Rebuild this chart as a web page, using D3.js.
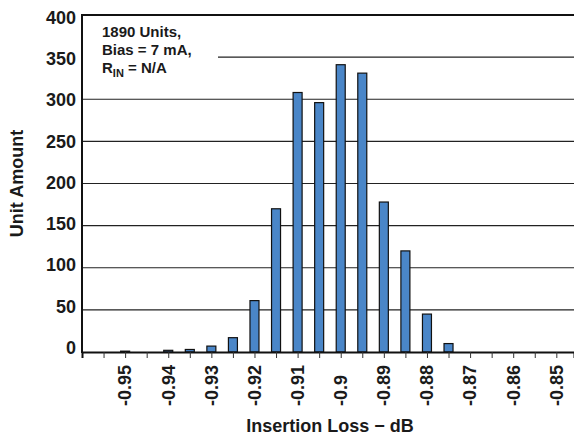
<!DOCTYPE html>
<html>
<head>
	<meta charset="UTF-8">
	<title>insertion loss histogram</title>
	<style>
html, body {
	margin:0;padding:0;background:#fff;
}
text {
	font-family: "Liberation Sans", Arial, sans-serif;
	font-weight: bold;
	fill: #1a1a1a;
}
.grid {stroke: #222; stroke-width: 1.2;}
.bar {fill: #4a86c8; stroke: #111; stroke-width: 1.2;}
	</style>
	<script src="https://cdnjs.cloudflare.com/ajax/libs/d3/7.8.5/d3.min.js"></script>
</head>
<body>
<script>
// histogram bins (dB) and unit counts
const binCenters = [-0.955, -0.95, -0.945, -0.94, -0.935, -0.93, -0.925, -0.92, -0.915, -0.91, -0.905,
	-0.9, -0.895, -0.89, -0.885, -0.88, -0.875, -0.87, -0.865, -0.86, -0.855, -0.85];
const unitCounts = [0, 1, 0, 2, 3, 7, 17, 61, 170, 308, 296,
	341, 331, 178, 120, 45, 10, 0, 0, 0, 0, 0];
const xLabelValues = [-0.95, -0.94, -0.93, -0.92, -0.91, -0.9, -0.89, -0.88, -0.87, -0.86, -0.85];
const xLabelText = ['-0.95', '-0.94', '-0.93', '-0.92', '-0.91', '-0.9', '-0.89', '-0.88', '-0.87', '-0.86', '-0.85'];
const yTicks = [0, 50, 100, 150, 200, 250, 300, 350, 400];
const noteLines = ['1890 Units,', 'Bias = 7 mA,'];

const W = 574, H = 437;
const plot = {left: 82, right: 574, top: 15, bottom: 352};

const svg = d3.select(document.body).append('svg').attr('width', W).attr('height', H);

const x = d3.scaleLinear().domain([-0.96, -0.8459]).range([plot.left, plot.right]);
const y = d3.scaleLinear().domain([0, 400]).range([plot.bottom, plot.top]);
// tick labels sit on a slightly tighter spacing than the gridlines in the original
const yLab = d3.scaleLinear().domain([0, 400]).range([347.5, 17.5]);

// gridlines
svg.append('g').selectAll('line').data(yTicks.filter(v => v > 0 && v < 400)).enter().append('line')
	.attr('class', 'grid')
	.attr('x1', plot.left).attr('x2', plot.right)
	.attr('y1', d => y(d)).attr('y2', d => y(d));

// annotation box hides part of the 350 gridline
svg.append('rect')
	.attr('x', plot.left + 1).attr('y', plot.top + 2)
	.attr('width', 135).attr('height', 64)
	.attr('fill', '#fff');

// bars
const barW = 9;
svg.append('g').selectAll('rect').data(binCenters.map((c, i) => ({c, v: unitCounts[i]})).filter(d => d.v > 0))
	.enter().append('rect')
	.attr('class', 'bar')
	.attr('x', d => x(d.c) - barW / 2)
	.attr('y', d => y(d.v))
	.attr('width', barW)
	.attr('height', d => y(0) - y(d.v));

// frame: top, left, bottom
svg.append('line').attr('x1', plot.left).attr('x2', plot.right).attr('y1', plot.top).attr('y2', plot.top)
	.attr('stroke', '#111').attr('stroke-width', 2);
svg.append('line').attr('x1', plot.left).attr('x2', plot.left).attr('y1', plot.top - 1).attr('y2', plot.bottom + 1)
	.attr('stroke', '#111').attr('stroke-width', 2);

const xAxis = svg.append('g').attr('transform', `translate(0,${plot.bottom})`)
	.call(d3.axisBottom(x).tickValues(binCenters).tickSize(6).tickFormat(''));
xAxis.select('.domain').attr('stroke', '#111').attr('stroke-width', 2);
xAxis.selectAll('.tick line').attr('stroke', '#333').attr('stroke-width', 1);

// rotated x labels
svg.append('g').selectAll('text').data(xLabelValues).enter().append('text')
	.attr('transform', d => `translate(${x(d)},406) rotate(-90)`)
	.attr('dy', '0.35em')
	.attr('text-anchor', 'start')
	.style('font-size', '18px')
	.text((d, i) => xLabelText[i]);

// y labels
svg.append('g').selectAll('text').data(yTicks).enter().append('text')
	.attr('x', 76)
	.attr('y', d => yLab(d))
	.attr('dy', '0.36em')
	.attr('text-anchor', 'end')
	.style('font-size', '18px')
	.text(d => d);

// axis titles
svg.append('text')
	.attr('x', 330).attr('y', 432)
	.attr('text-anchor', 'middle')
	.style('font-size', '18px')
	.text('Insertion Loss \u2212 dB');
svg.append('text')
	.attr('transform', `translate(23,${(plot.top + plot.bottom) / 2}) rotate(-90)`)
	.attr('text-anchor', 'middle')
	.style('font-size', '18px')
	.text('Unit Amount');

// annotation
const note = svg.append('g').style('font-size', '15px');
note.selectAll('text.line').data(noteLines).enter().append('text')
	.attr('class', 'line')
	.attr('x', 102).attr('y', (d, i) => 37 + i * 18)
	.text(d => d);
const rin = note.append('text').attr('x', 102).attr('y', 73);
rin.append('tspan').text('R');
rin.append('tspan').attr('dy', 4).style('font-size', '11px').text('IN');
rin.append('tspan').attr('dy', -4).text(' = N/A');
</script>
</body>
</html>
